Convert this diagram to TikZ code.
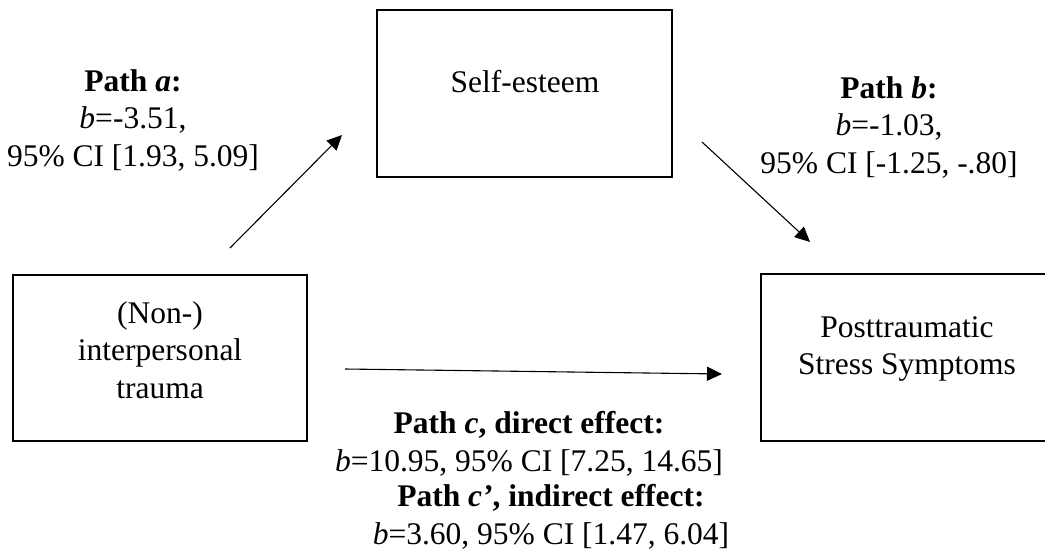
\documentclass[tikz,border=0pt]{standalone}
\usepackage{fontspec}
\setmainfont{Liberation Serif}
\usetikzlibrary{arrows.meta}
\begin{document}
\begin{tikzpicture}[x=1pt,y=-1pt,
  box/.style={draw=black,line width=1.6pt,minimum width=#1,inner sep=0pt},
  txt/.style={font=\fontsize{31.5}{37.5}\selectfont,align=center,inner sep=0pt},
  conn/.style={line width=1.1pt,-{Triangle[length=15pt,width=14pt]}}]
\path[use as bounding box] (0,0) rectangle (1045,560);
\clip (0,0) rectangle (1045,560);
\fill[white] (0,0) rectangle (1045,560);
% boxes
\node[box=295pt,minimum height=167pt] (se) at (524.5,93.5) {};
\node[box=294pt,minimum height=166pt] (tr) at (160,358) {};
\node[box=292pt,minimum height=167pt] (pt) at (907,357.5) {};
% box texts
\node[txt] (setxt) at (525,82) {Self-esteem};
\node[txt] (trtxt) at (160,350) {(Non-)\\interpersonal\\trauma};
\node[txt] (pttxt) at (907,349) {Posttraumatic\\Stress Symptoms};
% path labels
\node[txt] (la) at (133,120) {\textbf{Path \textit{a}:}\\\textit{b}=-3.51,\\95\% CI [1.93, 5.09]};
\node[txt] (lb) at (889,127) {\textbf{Path \textit{b}:}\\\textit{b}=-1.03,\\95\% CI [-1.25, -.80]};
\node[txt] (lc) at (529,444) {\textbf{Path \textit{c}, direct effect:}\\\textit{b}=10.95, 95\% CI [7.25, 14.65]};
\node[txt] (ld) at (551,517) {\textbf{Path \textit{c’}, indirect effect:}\\\textit{b}=3.60, 95\% CI [1.47, 6.04]};
% connector end points
\coordinate (a1) at (230,248);
\coordinate (a2) at (342,135);
\coordinate (b1) at (702,142);
\coordinate (b2) at (810,242);
\coordinate (c1) at (345,369);
\coordinate (c2) at (722,374);
\draw[conn] (a1) -- (a2);
\draw[conn] (b1) -- (b2);
\draw[conn] (c1) -- (c2);
\end{tikzpicture}
\end{document}
